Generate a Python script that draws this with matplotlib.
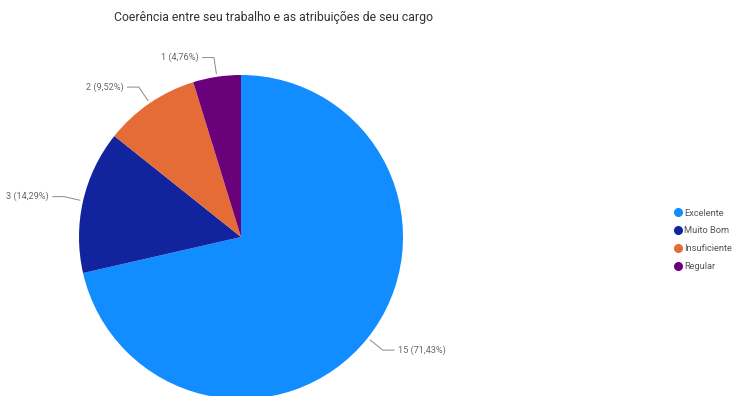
import numpy as np
import matplotlib
matplotlib.use("Agg")
import matplotlib.pyplot as plt
from matplotlib.lines import Line2D

plt.rcParams['font.family'] = ['Roboto', 'DejaVu Sans']

categorias = ['Excelente', 'Muito Bom', 'Insuficiente', 'Regular']
valores = [15, 3, 2, 1]
rotulos = ['15 (71,43%)', '3 (14,29%)', '2 (9,52%)', '1 (4,76%)']
cores = ['#118DFF', '#12239E', '#E66C37', '#6B007B']

fig = plt.figure(figsize=(7.44, 3.96), dpi=100)
W, H = 744, 396
cx, cy, r = 241, 237, 162
ax = fig.add_axes([(cx - r) / W, (H - cy - r) / H, 2 * r / W, 2 * r / H])

wedges, _ = ax.pie(valores, colors=cores, startangle=90, counterclock=False,
                   radius=1, wedgeprops=dict(linewidth=0))
ax.set_xlim(-1, 1)
ax.set_ylim(-1, 1)
ax.axis('off')
for w in wedges:
    w.set_clip_on(False)

cinza = '#8a8a8a'
for w, txt in zip(wedges, rotulos):
    ang = np.deg2rad((w.theta1 + w.theta2) / 2)
    c, s = np.cos(ang), np.sin(ang)
    x1, y1 = 1.02 * c, 1.02 * s
    x2, y2 = 1.12 * c, 1.12 * s
    lado = 1 if c > 0 else -1
    x3 = x2 + lado * 0.07
    ax.plot([x1, x2, x3], [y1, y2, y2], color=cinza, lw=0.7, clip_on=False)
    ax.text(x3 + lado * 0.025, y2, txt, ha='left' if lado > 0 else 'right',
            va='center', fontsize=6.6, color='#666666', clip_on=False)

fig.text(273 / W, 1 - 17 / H, 'Coerência entre seu trabalho e as atribuições de seu cargo',
         ha='center', va='center', fontsize=8.8, color='#333333')

handles = [Line2D([0], [0], marker='o', linestyle='', markersize=5.5,
                  markerfacecolor=col, markeredgecolor=col) for col in cores]
fig.legend(handles, categorias, loc='upper left', bbox_to_anchor=(668 / W, 1 - 204 / H),
           frameon=False, fontsize=6.7, handletextpad=0.0, labelspacing=0.95,
           handlelength=1.2, borderpad=0, labelcolor='#555555')

fig.savefig('out.png', dpi=100)
